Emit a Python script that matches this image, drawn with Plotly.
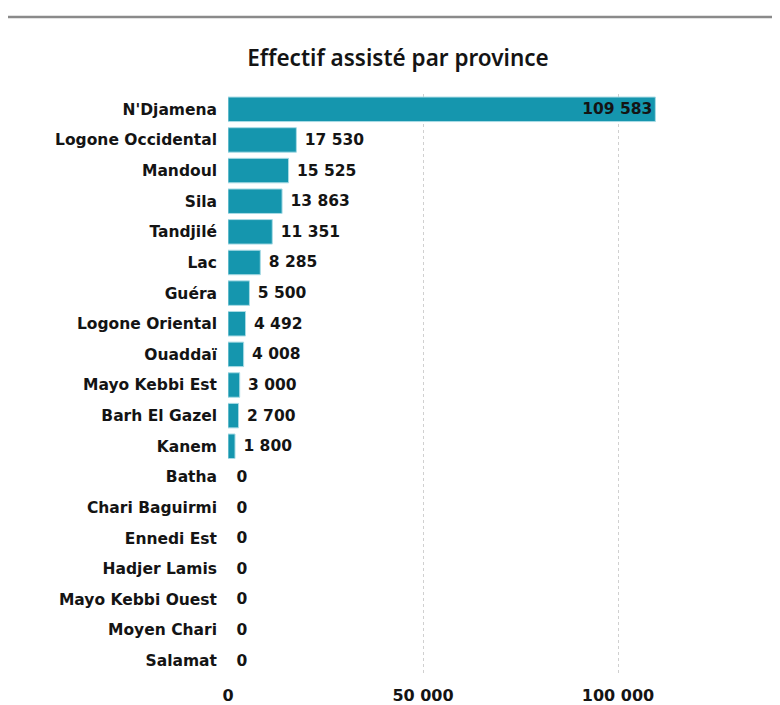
import plotly.graph_objects as go

provinces = ["N'Djamena", "Logone Occidental", "Mandoul", "Sila", "Tandjilé", "Lac", "Guéra",
             "Logone Oriental", "Ouaddaï", "Mayo Kebbi Est", "Barh El Gazel", "Kanem", "Batha",
             "Chari Baguirmi", "Ennedi Est", "Hadjer Lamis", "Mayo Kebbi Ouest", "Moyen Chari", "Salamat"]
effectif = [109583, 17530, 15525, 13863, 11351, 8285, 5500, 4492, 4008, 3000, 2700, 1800,
            0, 0, 0, 0, 0, 0, 0]
x_ticks = [0, 50000, 100000]
x_tick_labels = ["0", "50 000", "100 000"]

label_font = "DejaVu Sans"
dark = "#141414"

positions = ["inside" if i == 0 else "outside" for i in range(len(effectif))]
templates = ["%{x:,}" if i == 0 else "\u00a0%{x:,}" for i in range(len(effectif))]
line_widths = [1 if v > 0 else 0 for v in effectif]

fig = go.Figure(go.Bar(
    x=effectif, y=provinces, orientation="h",
    marker=dict(color="#1596ae", line=dict(color="#a9dbe5", width=line_widths)),
    texttemplate=templates, textposition=positions, insidetextanchor="end",
    insidetextfont=dict(family=label_font, size=15.5, color=dark, weight="bold"),
    outsidetextfont=dict(family=label_font, size=15.5, color=dark, weight="bold"),
    cliponaxis=False, width=0.8,
))

fig.update_layout(
    width=780, height=705,
    margin=dict(l=220, r=92, t=86, b=37),
    paper_bgcolor="white", plot_bgcolor="white",
    separators=". ",
    showlegend=False,
    title=dict(text="Effectif assisté par province", x=0.5, xref="container",
               y=1 - 50 / 705, yref="container", yanchor="middle", xanchor="center",
               font=dict(family="Noto Sans", size=22.5, color=dark, weight=600)),
    xaxis=dict(range=[0, 120000], tickvals=x_ticks, ticktext=x_tick_labels,
               showgrid=True, gridcolor="#d0d0d0", griddash="dot", gridwidth=1,
               zeroline=False, showline=False, ticks="", ticklen=0,
               ticklabelstandoff=8, automargin=False,
               tickfont=dict(family=label_font, size=16, color=dark, weight="bold")),
    yaxis=dict(autorange="reversed", showgrid=False, zeroline=False, showline=False,
               ticks="", ticklabelstandoff=10, automargin=False,
               tickfont=dict(family=label_font, size=15.5, color=dark, weight="bold")),
    shapes=[dict(type="line", xref="paper", yref="paper", x0=-220/468, x1=(780-220)/468,
                 y0=1 + (86 - 9) / 582, y1=1 + (86 - 9) / 582,
                 line=dict(color="#8a8a8a", width=2.5))],
)

fig.write_html("out.html")
